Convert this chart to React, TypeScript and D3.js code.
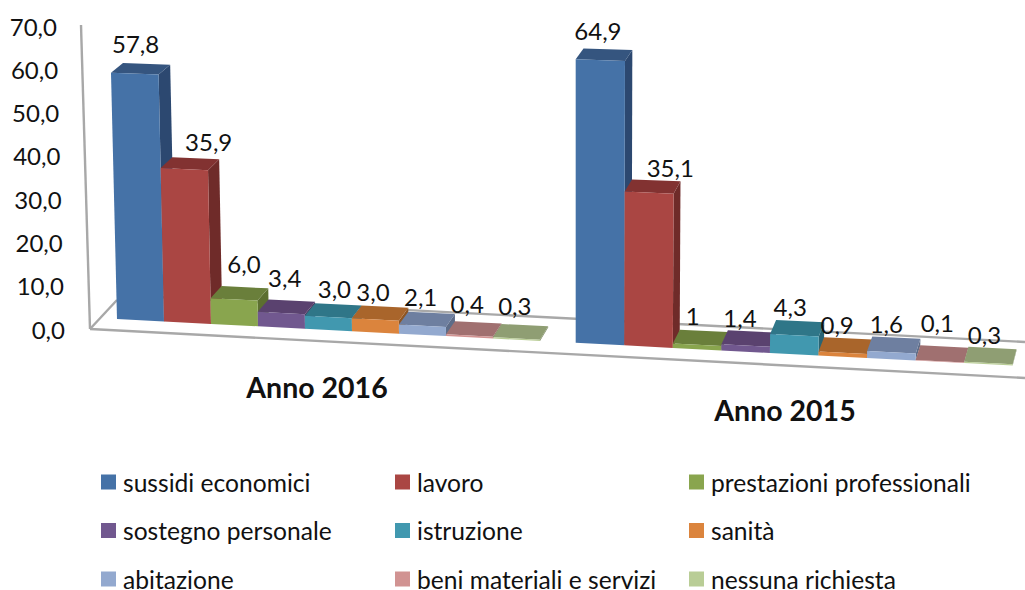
import * as d3 from 'd3';

const CATEGORIES = [
  'sussidi economici', 'lavoro', 'prestazioni professionali',
  'sostegno personale', 'istruzione', 'sanità',
  'abitazione', 'beni materiali e servizi', 'nessuna richiesta',
];
const VALUES_2016 = [57.8, 35.9, 6.0, 3.4, 3.0, 3.0, 2.1, 0.4, 0.3];
const VALUES_2015 = [64.9, 35.1, 1, 1.4, 4.3, 0.9, 1.6, 0.1, 0.3];
const LABELS_2016 = ['57,8', '35,9', '6,0', '3,4', '3,0', '3,0', '2,1', '0,4', '0,3'];
const LABELS_2015 = ['64,9', '35,1', '1', '1,4', '4,3', '0,9', '1,6', '0,1', '0,3'];
const TICKS = [0, 10, 20, 30, 40, 50, 60, 70];

const FRONT = ['#4572A7', '#AA4643', '#89A54E', '#71588F', '#4198AF', '#DB843D', '#93A9CF', '#D19392', '#B9CD96'];
const TOP = ['#35557F', '#823231', '#6A7F3B', '#5A426F', '#2F7688', '#A9652B', '#6E7FA0', '#A07070', '#8F9E73'];
const SIDE = ['#2C4870', '#6F2B29', '#5C6F30', '#4B375F', '#286474', '#8E5522', '#5D6C88', '#875E5E', '#79865F'];

// hand placed data labels, they don't sit centred over the bars in the original
const NUDGE_2016 = [[-11, -6], [13, -3], [-1, -10], [-7, -9], [-4, -2], [-12, -1.5], [-11, -2], [-11, -5], [-10, -6]];
const NUDGE_2015 = [[-10, -5], [14, 1], [-11, -1], [-12, 0], [-10, -1], [-11, 0], [-10, 0], [-7, -10], [-8, 0]];

const FONT = 'Lato, Carlito, sans-serif';
const AXIS = '#A8A8A8';

// fake 3D: the floor tilts down to the right and verticals lean a little
const floorY = d3.scaleLinear().domain([117, 1025]).range([319, 366.2]);
const heightPerUnit = d3.scaleLinear().domain([117, 575]).range([4.26, 4.37]);
const depthX = d3.scaleLinear().domain([117, 1000]).range([12, 3.9]);
const depthY = d3.scaleLinear().domain([117, 1000]).range([12, 15]);
const axisY = d3.scaleLinear().domain([0, 70]).range([329, 26]);
const axisLabelRight = d3.scaleLinear().domain([0, 70]).range([65, 57]);

const lean = (x: number, v: number) => v * (575 - x) * 0.000227;

function corner(x: number, v: number): [number, number] {
  return [x - lean(x, v), floorY(x) - v * heightPerUnit(x)];
}

function back(p: [number, number], x: number, v: number): [number, number] {
  const shrink = 1 - v * 0.0032;
  return [p[0] + depthX(x), p[1] - depthY(x) * shrink];
}

const poly = d3.line();

function Group({ values, labels, nudge, xStart, xEnd, title, titleX, titleY }: {
  values: number[]; labels: string[]; nudge: number[][];
  xStart: number; xEnd: number; title: string; titleX: number; titleY: number;
}) {
  const x = d3.scaleBand().domain(CATEGORIES).range([xStart, xEnd]);
  return (
    <g>
      {values.map((v, i) => {
        const x0 = x(CATEGORIES[i]) ?? 0;
        const x1 = x0 + x.bandwidth();
        const fl = corner(x0, v);
        const fr = corner(x1, v);
        const bl = back(fl, x0, v);
        const br = back(fr, x1, v);
        const gl: [number, number] = [x0, floorY(x0)];
        const gr: [number, number] = [x1, floorY(x1)];
        const gb = back(gr, x1, 0);
        return (
          <g key={i}>
            <path d={poly([fr, br, gb, gr]) + 'Z'} fill={SIDE[i]} />
            <path d={poly([fl, bl, br, fr]) + 'Z'} fill={TOP[i]} />
            <path d={poly([gl, fl, fr, gr]) + 'Z'} fill={FRONT[i]} />
          </g>
        );
      })}
      {values.map((v, i) => {
        const x0 = x(CATEGORIES[i]) ?? 0;
        const xm = x0 + x.bandwidth() / 2;
        const top = back(corner(xm, v), xm, v);
        return (
          <text key={i} x={top[0] + nudge[i][0]} y={top[1] - 14 + nudge[i][1]} textAnchor="middle"
            dominantBaseline="central" fontSize={24} fontFamily={FONT} fill="#111">
            {labels[i]}
          </text>
        );
      })}
      <text x={titleX} y={titleY} textAnchor="middle" dominantBaseline="central" fontSize={28.5}
        fontWeight={700} fontFamily={FONT} fill="#111">{title}</text>
    </g>
  );
}

export default function App() {
  const legendX = d3.scaleLinear().domain([0, 1]).range([101, 395]);
  const legendY = d3.scaleLinear().domain([0, 1]).range([482, 530.5]);

  return (
    <svg width={1025} height={590} style={{ position: 'fixed', left: 0, top: 0, background: '#fff' }}>
      {/* walls and floor */}
      <g stroke={AXIS} strokeWidth={2.4} fill="none">
        <line x1={81} y1={25} x2={90} y2={329} />
        <line x1={90} y1={329} x2={117} y2={300} />
        <line x1={117} y1={295} x2={1025} y2={342} />
        <line x1={90} y1={329} x2={1025} y2={378} />
      </g>

      {TICKS.map(t => (
        <text key={t} x={axisLabelRight(t)} y={axisY(t)} textAnchor="end" dominantBaseline="central"
          fontSize={24} fontFamily={FONT} fill="#111">
          {t.toFixed(1).replace('.', ',')}
        </text>
      ))}

      <Group values={VALUES_2016} labels={LABELS_2016} nudge={NUDGE_2016} xStart={117} xEnd={540}
        title="Anno 2016" titleX={317} titleY={387} />
      <Group values={VALUES_2015} labels={LABELS_2015} nudge={NUDGE_2015} xStart={575.7} xEnd={1012.7}
        title="Anno 2015" titleX={785} titleY={410} />

      {CATEGORIES.map((c, i) => {
        const col = i % 3;
        const row = Math.floor(i / 3);
        return (
          <g key={c}>
            <rect x={legendX(col)} y={legendY(row) - 7.5} width={15} height={15} fill={FRONT[i]} />
            <text x={legendX(col) + 22} y={legendY(row)} dominantBaseline="central" fontSize={24.6}
              fontFamily={FONT} fill="#111">{c}</text>
          </g>
        );
      })}
    </svg>
  );
}
